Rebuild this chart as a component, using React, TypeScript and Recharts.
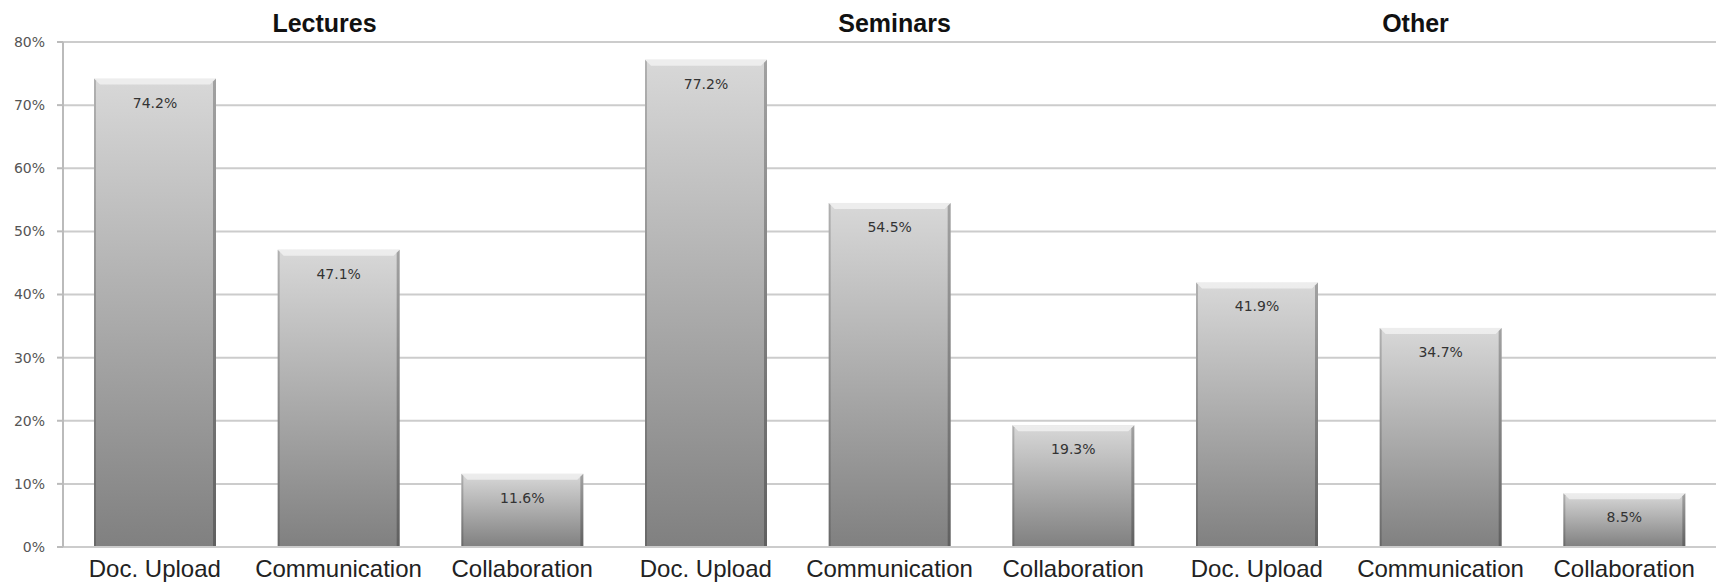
import { Bar, BarChart, CartesianGrid, LabelList, ReferenceLine, XAxis, YAxis } from "recharts";

const groups = ["Lectures", "Seminars", "Other"];
const features = ["Doc. Upload", "Communication", "Collaboration"];
const lecturesValues = [74.2, 47.1, 11.6];
const seminarsValues = [77.2, 54.5, 19.3];
const otherValues = [41.9, 34.7, 8.5];
const yTicks = [0, 10, 20, 30, 40, 50, 60, 70, 80];

const groupValues = [lecturesValues, seminarsValues, otherValues];

const data = groups.flatMap((group, gi) =>
  features.map((feature, fi) => ({
    key: `${group}|${feature}`,
    feature,
    value: groupValues[gi][fi],
  })),
);

const titleShift: Record<string, number> = { Lectures: -14, Seminars: 5, Other: -25 };

function BevelBar(props: any) {
  const { x, y, width, height } = props;
  if (!height || height <= 0) return null;
  const b = 6;
  return (
    <g>
      <rect x={x} y={y} width={width} height={height} fill="url(#barGrad)" />
      <polygon
        points={`${x},${y} ${x + width},${y} ${x + width - b},${y + b} ${x + b},${y + b}`}
        fill="#ffffff"
        fillOpacity={0.55}
      />
      <polygon
        points={`${x},${y} ${x + 2},${y + 2} ${x + 2},${y + height} ${x},${y + height}`}
        fill="#000000"
        fillOpacity={0.18}
      />
      <polygon
        points={`${x + width},${y} ${x + width - 3},${y + 3} ${x + width - 3},${y + height} ${x + width},${y + height}`}
        fill="#000000"
        fillOpacity={0.25}
      />
    </g>
  );
}

export default function App() {
  return (
    <div style={{ position: "absolute", left: 0, top: 0, width: 1726, height: 582, background: "#fff" }}>
      <BarChart
        width={1726}
        height={582}
        data={data}
        margin={{ top: 42, right: 10, left: 0, bottom: 0 }}
        barCategoryGap={31}
      >
        <defs>
          <linearGradient id="barGrad" x1="0" y1="0" x2="0" y2="1">
            <stop offset="0%" stopColor="#d8d8d8" />
            <stop offset="100%" stopColor="#808080" />
          </linearGradient>
        </defs>
        <CartesianGrid vertical={false} stroke="#cccccc" strokeWidth={2} />
        <XAxis
          dataKey="key"
          height={35}
          tickFormatter={(v: string) => v.split("|")[1]}
          tickLine={false}
          axisLine={{ stroke: "#cccccc", strokeWidth: 2 }}
          interval={0}
          tickMargin={7}
          tick={{ fontSize: 24, fill: "#222", fontFamily: "Liberation Sans, Arial, sans-serif" }}
        />
        <YAxis
          width={63}
          domain={[0, 80]}
          ticks={yTicks}
          tickFormatter={(v: number) => `${v}%`}
          tickSize={6}
          tickMargin={12}
          axisLine={{ stroke: "#bbbbbb", strokeWidth: 2 }}
          tickLine={{ stroke: "#bbbbbb", strokeWidth: 2 }}
          tick={{ fontSize: 14, fill: "#555", fontFamily: "DejaVu Sans, Verdana, sans-serif" }}
        />
        {groups.map((g) => (
          <ReferenceLine
            key={g}
            x={`${g}|${features[1]}`}
            stroke="none"
            ifOverflow="visible"
            label={(p: any) => {
              const vb = p.viewBox;
              return (
                <text
                  x={vb.x + titleShift[g]}
                  y={32}
                  textAnchor="middle"
                  fontSize={25}
                  fontWeight="bold"
                  fill="#111"
                  fontFamily="Liberation Sans, Arial, sans-serif"
                >
                  {g}
                </text>
              );
            }}
          />
        ))}
        <Bar dataKey="value" barSize={122} shape={<BevelBar />} isAnimationActive={false}>
          <LabelList
            dataKey="value"
            position="insideTop"
            offset={19}
            formatter={(v: any) => `${Number(v).toFixed(1)}%`}
            style={{ fontSize: 14, fill: "#333", fontFamily: "DejaVu Sans, Verdana, sans-serif" }}
          />
        </Bar>
      </BarChart>
    </div>
  );
}
